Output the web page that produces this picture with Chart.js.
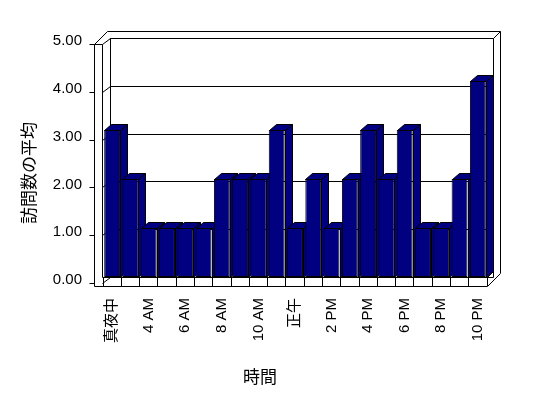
<!DOCTYPE html>
<html>
<head>
<meta charset="utf-8">
<script src="https://cdn.jsdelivr.net/npm/chart.js@4/dist/chart.umd.min.js"></script>
<style>
  html, body { margin: 0; padding: 0; background: #fff; }
  #wrap { width: 548px; height: 398px; }
</style>
</head>
<body>
<div id="wrap"><canvas id="chart" width="548" height="398"></canvas></div>
<script>
// 時間ごとの訪問数の平均
const hours = ['真夜中', '2 AM', '4 AM', '5 AM', '6 AM', '7 AM', '8 AM', '9 AM', '10 AM', '11 AM', '正午',
  '1 PM', '2 PM', '3 PM', '4 PM', '5 PM', '6 PM', '7 PM', '8 PM', '9 PM', '10 PM'];
const visitsAvg = [3, 2, 1, 1, 1, 1, 2, 2, 2, 3, 1, 2, 1, 2, 3, 2, 3, 1, 1, 2, 4];
const yTicks = [0, 1, 2, 3, 4, 5];

const FONT = "'Liberation Sans', 'Noto Sans CJK JP', sans-serif";
const NAVY = '#000080';
const DX = 7, DY = -6;

Chart.defaults.color = '#000';
Chart.defaults.font.family = FONT;
Chart.defaults.font.size = 15;

const px = (v) => Math.round(v) + 0.5;

function line(ctx, pts) {
  ctx.beginPath();
  pts.forEach(([x, y], i) => (i ? ctx.lineTo(px(x), px(y)) : ctx.moveTo(px(x), px(y))));
  ctx.stroke();
}

function poly(ctx, pts) {
  ctx.beginPath();
  pts.forEach(([x, y], i) => (i ? ctx.lineTo(px(x), px(y)) : ctx.moveTo(px(x), px(y))));
  ctx.closePath();
  ctx.fill();
  ctx.stroke();
}

// walls, floor, gridlines and the bar tops/sides (excel style 3d)
const box3d = {
  id: 'box3d',
  beforeDatasetsDraw(chart) {
    const { ctx, chartArea: { left: L, right: R, top: T, bottom: B } } = chart;
    const yAx = chart.scales.y;
    ctx.save();
    ctx.strokeStyle = '#000';
    ctx.lineWidth = 1;

    // back wall + slab edges
    line(ctx, [[L + DX, T], [R + DX - 1, T], [R + DX - 1, B]]);
    line(ctx, [[L - 9, T + 6], [L + 4, T - 7], [R + 13, T - 7], [R + 13, B - 4], [R, B + 9]]);
    line(ctx, [[R + DX - 1, T], [R + 13, T - 7]]);
    // left wall
    line(ctx, [[L - 9, T + 6], [L - 9, B + 9]]);
    line(ctx, [[L - 9, T + 6], [L - 1, T + 6], [L - 1, B]]);
    line(ctx, [[L + DX, T], [L + DX, B]]);
    // floor
    line(ctx, [[L - 9, B + 9], [R, B + 9]]);
    line(ctx, [[L - 1, B], [R, B], [R + DX - 1, B + DY]]);

    // gridlines on side + back wall, ticks on the front axis
    yTicks.forEach((v) => {
      const yv = yAx.getPixelForValue(v);
      line(ctx, [[L - 1, yv - DY], [L + DX, yv], [R + DX - 1, yv]]);
      line(ctx, [[L - 14, yv - DY], [L - 9, yv - DY]]);
    });

    // bar side and top faces
    const meta = chart.getDatasetMeta(0);
    ctx.fillStyle = NAVY;
    meta.data.forEach((bar) => {
      const { x, y, base, width } = bar.getProps(['x', 'y', 'base', 'width'], true);
      const x0 = x - width / 2, x1 = x + width / 2;
      poly(ctx, [[x1, y], [x1 + DX, y + DY], [x1 + DX, base + DY], [x1, base]]);
      poly(ctx, [[x0, y], [x0 + DX, y + DY], [x1 + DX, y + DY], [x1, y]]);
    });
    ctx.restore();
  },
  afterDraw(chart) {
    const { ctx } = chart;
    ctx.save();
    ctx.fillStyle = '#000';
    ctx.font = "17px 'Noto Sans CJK JP', sans-serif";
    ctx.textAlign = 'center';
    ctx.textBaseline = 'middle';
    ctx.fillText('時間', 260, 377);
    ctx.translate(29, 173);
    ctx.rotate(-Math.PI / 2);
    ctx.fillText('訪問数の平均', 0, 0);
    ctx.restore();
  },
};

new Chart(document.getElementById('chart'), {
  type: 'bar',
  data: {
    labels: hours,
    datasets: [{
      data: visitsAvg,
      yAxisID: 'yBar',
      backgroundColor: NAVY,
      borderColor: '#000',
      borderWidth: 1,
      borderSkipped: false,
      barPercentage: 0.87,
      categoryPercentage: 1,
    }],
  },
  options: {
    responsive: false,
    animation: false,
    layout: { padding: { top: 38, right: 61, left: 0, bottom: 0 } },
    plugins: { legend: { display: false }, tooltip: { enabled: false } },
    scales: {
      x: {
        offset: true,
        grid: { offset: true, drawOnChartArea: false, drawTicks: true, tickLength: 9, color: '#000' },
        border: { display: false },
        ticks: {
          autoSkip: false,
          maxRotation: 90,
          minRotation: 90,
          padding: 12,
          callback: (v, i) => (i % 2 === 0 ? hours[i] : ''),
        },
        afterFit: (s) => { s.height = 121; },
      },
      y: {
        position: 'left',
        min: 0,
        max: 5,
        ticks: { stepSize: 1, padding: 21, labelOffset: 3, callback: (v) => v.toFixed(2) },
        grid: { display: false, drawTicks: false },
        border: { display: false },
        afterFit: (s) => { s.width = 103; },
      },
      yBar: { display: false, min: 0, max: 4.88 },
    },
  },
  plugins: [box3d],
});
</script>
</body>
</html>
